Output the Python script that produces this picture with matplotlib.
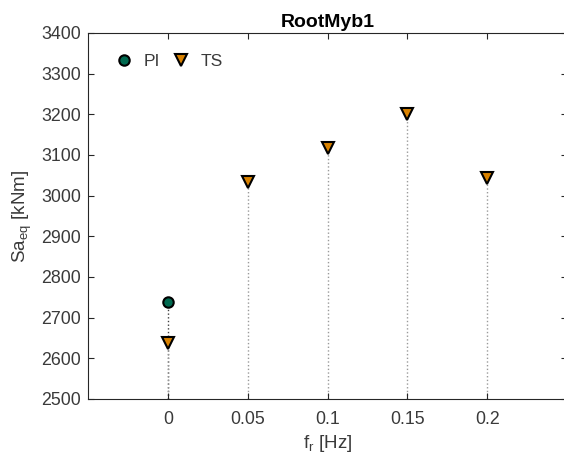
import matplotlib
matplotlib.use("Agg")
import matplotlib.pyplot as plt

plt.rcParams['font.family'] = ['Liberation Sans', 'DejaVu Sans']
plt.rcParams['mathtext.fontset'] = 'custom'
plt.rcParams['mathtext.rm'] = 'Liberation Sans'

# data
fr_pi = [0.0]
sa_pi = [2738]
fr_ts = [0.0, 0.05, 0.1, 0.15, 0.2]
sa_ts = [2637, 3034, 3117, 3200, 3043]
xticks = [0, 0.05, 0.1, 0.15, 0.2]
xtick_labels = ['0', '0.05', '0.1', '0.15', '0.2']
yticks = list(range(2500, 3401, 100))

ymin = 2500
dark = '#262626'
txt = '#3a3a3a'

fig = plt.figure(figsize=(5.64, 4.59), dpi=100)
ax = fig.add_axes([88 / 564, 60 / 459, 479 / 564, 366 / 459])

# dotted stems from the bottom of the axes up to each marker
for x, y in zip(fr_pi, sa_pi):
    ax.plot([x, x], [ymin, y], ls=':', color='#404040', lw=1, zorder=1)
for x, y in zip(fr_ts, sa_ts):
    ax.plot([x, x], [ymin, y], ls=':', color='#9a9a9a', lw=1, zorder=1)

ax.plot(fr_pi, sa_pi, 'o', ms=7.5, mfc='#00694f', mec='black', mew=1.5,
        ls='none', label='PI', zorder=3)
ax.plot(fr_ts, sa_ts, 'v', ms=8.5, mfc='#d98200', mec='black', mew=1.5,
        ls='none', label='TS', zorder=3)

ax.set_xlim(-0.05, 0.25)
ax.set_ylim(2500, 3400)
ax.set_xticks(xticks)
ax.set_xticklabels(xtick_labels)
ax.set_yticks(yticks)
ax.tick_params(direction='in', top=True, right=True, labelsize=12.8,
               colors=dark, labelcolor=txt, length=4, width=0.8)
ax.tick_params(axis='x', pad=9)
ax.tick_params(axis='y', pad=5)
for s in ax.spines.values():
    s.set_color(dark)
    s.set_linewidth(0.8)

ax.set_xlabel(r'f$_\mathregular{r}$ [Hz]', fontsize=13.5, color=txt, labelpad=3)
ax.set_ylabel(r'Sa$_\mathregular{eq}$ [kNm]', fontsize=13.5, color=txt, labelpad=5)
ax.set_title('RootMyb1', fontsize=14, fontweight='bold', color='black', pad=4)

leg = ax.legend(loc='upper left', ncol=2, frameon=False, fontsize=12.5,
                handlelength=1.2, handletextpad=0.55, columnspacing=0.6,
                borderaxespad=0.3, bbox_to_anchor=(0.028, 0.975))
for t in leg.get_texts():
    t.set_color(txt)

fig.savefig('out.png', dpi=100)
